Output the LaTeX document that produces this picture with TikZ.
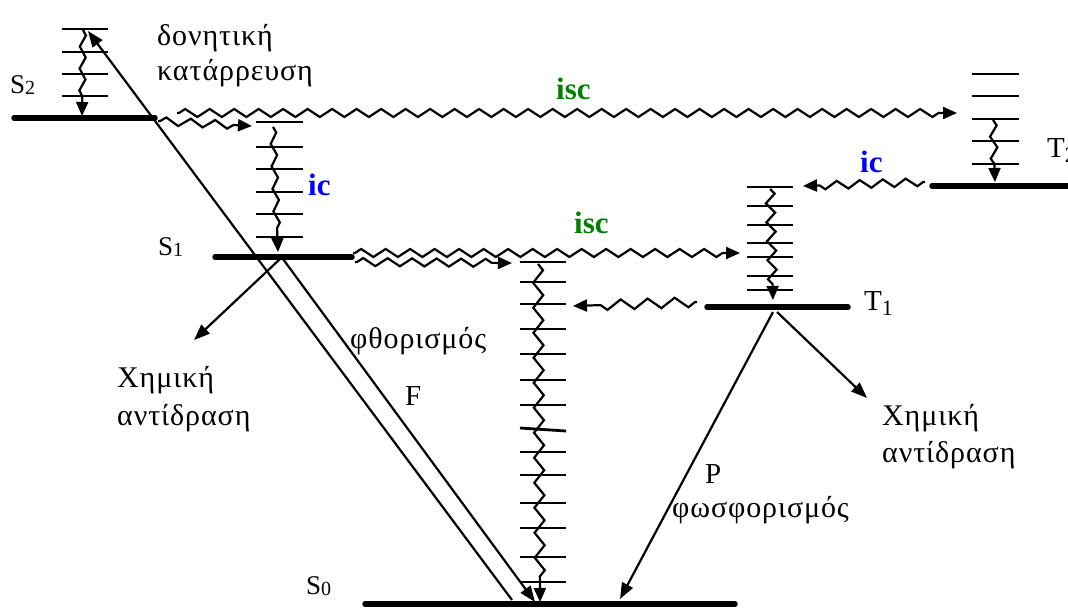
\documentclass[tikz,border=0pt]{standalone}
\usepackage{fontspec}
\setmainfont{Liberation Serif}
\newfontfamily\grf[LetterSpace=3]{Liberation Serif}
\usetikzlibrary{arrows.meta,decorations.pathmorphing}
\definecolor{iscgreen}{RGB}{0,128,0}
\definecolor{icblue}{RGB}{0,0,255}
\begin{document}
\begin{tikzpicture}[x=1pt,y=-1pt,
  lvl/.style={line width=5.5pt,line cap=round},
  vib/.style={line width=2.8pt},
  tip/.style={-{Triangle[length=14pt,width=12pt]}},
  bigtip/.style={-{Triangle[length=16pt,width=12pt]}},
  thinl/.style={line width=2.2pt},
  zzh/.style 2 args={line width=2.2pt, decorate, decoration={zigzag, segment length=#1, amplitude=#2, post length=16pt, pre length=2pt}},
  zzv/.style 2 args={line width=2.2pt, decorate, decoration={zigzag, segment length=#1, amplitude=#2, post length=15pt}},
  gtxt/.style={font=\grf\fontsize{30}{36}\selectfont, inner sep=0pt, anchor=base west},
  lbl/.style={font=\fontsize{27}{27}\selectfont, inner sep=0pt, anchor=base west},
  tlbl/.style={font=\fontsize{29}{29}\selectfont, inner sep=0pt, anchor=base west},
  bigl/.style={font=\fontsize{29}{29}\selectfont, inner sep=0pt, anchor=base west},
  isctxt/.style={font=\bfseries\fontsize{31}{31}\selectfont, text=iscgreen, inner sep=0pt, anchor=base west},
  ictxt/.style={font=\bfseries\fontsize{31}{31}\selectfont, text=icblue, inner sep=0pt, anchor=base west},
]
\useasboundingbox (0,0) rectangle (1068,608);

% ---------- electronic levels ----------
\coordinate (S2a) at (14,118);  \coordinate (S2b) at (155,118);
\coordinate (S1a) at (215,257); \coordinate (S1b) at (352,257);
\coordinate (S0a) at (365,604); \coordinate (S0b) at (735,604);
\coordinate (T1a) at (707,307); \coordinate (T1b) at (848,307);
\coordinate (T2a) at (932,186); \coordinate (T2b) at (1075,186);
\draw[lvl] (S2a) -- (S2b);
\draw[lvl] (S1a) -- (S1b);
\draw[lvl] (S0a) -- (S0b);
\draw[lvl] (T1a) -- (T1b);
\draw[lvl] (T2a) -- (T2b);

% ---------- vibrational ladders ----------
\foreach \y in {29,52,74,96} \draw[vib] (62,\y) -- (108,\y);
\foreach \y in {122,147,169,192,214,237} \draw[vib] (256,\y) -- (303,\y);
\foreach \y in {187,206,225,243,257,276,290} \draw[vib] (747,\y) -- (793,\y);
\foreach \y in {74,96,119,141,164} \draw[vib] (972,\y) -- (1019,\y);
\foreach \y in {262,282,304,329,354,380,405,452,475,503,528,557,582} \draw[vib] (520,\y) -- (566,\y);
\draw[vib] (520,428) -- (566,431);

% ---------- vibrational relaxation (vertical zigzags) ----------
\coordinate (zs2a) at (83,30);   \coordinate (zs2b) at (82,116);
\coordinate (zs1a) at (273,127); \coordinate (zs1b) at (278,252);
\coordinate (zt1a) at (770,189); \coordinate (zt1b) at (773,300);
\coordinate (zt2a) at (993,120); \coordinate (zt2b) at (995,182);
\coordinate (zs0a) at (538,264); \coordinate (zs0b) at (540,602);
\draw[zzv={22pt}{3pt},tip] (zs2a) -- (zs2b);
\draw[zzv={22.5pt}{3pt},tip] (zs1a) -- (zs1b);
\draw[zzv={19pt}{4.5pt},tip] (zt1a) -- (zt1b);
\draw[zzv={22pt}{3.5pt},tip] (zt2a) -- (zt2b);
\draw[zzv={25pt}{5pt},tip] (zs0a) -- (zs0b);

% ---------- horizontal zigzags (ic / isc) ----------
\coordinate (hAa) at (158,121); \coordinate (hAb) at (252,126);
\coordinate (hBa) at (177,113); \coordinate (hBb) at (957,113);
\coordinate (hCa) at (353,253); \coordinate (hCb) at (740,253);
\coordinate (hDa) at (355,262); \coordinate (hDb) at (512,263);
\coordinate (hEa) at (697,302); \coordinate (hEb) at (573,306);
\coordinate (hFa) at (925,182); \coordinate (hFb) at (803,186);
\draw[zzh={24.5pt}{4pt},tip] (hAa) -- (hAb);
\draw[zzh={24.5pt}{4pt},tip] (hBa) -- (hBb);
\draw[zzh={24.5pt}{4pt},tip] (hCa) -- (hCb);
\draw[zzh={24.5pt}{4pt},tip] (hDa) -- (hDb);
\draw[zzh={27pt}{5pt},tip] (hEa) -- (hEb);
\draw[zzh={23pt}{4pt},tip] (hFa) -- (hFb);

% ---------- radiative / chemical arrows ----------
\coordinate (absA) at (512,600); \coordinate (absB) at (88,31);
\coordinate (flA) at (283,259);  \coordinate (flB) at (535,602);
\coordinate (chLa) at (280,259); \coordinate (chLb) at (194,340);
\coordinate (chRa) at (777,312); \coordinate (chRb) at (867,398);
\coordinate (phA) at (773,312);  \coordinate (phB) at (620,599);
\draw[thinl,bigtip] (absA) -- (absB);
\draw[thinl,bigtip] (flA) -- (flB);
\draw[thinl,bigtip] (chLa) -- (chLb);
\draw[thinl,bigtip] (chRa) -- (chRb);
\draw[thinl,bigtip] (phA) -- (phB);

% ---------- labels ----------
\node[lbl] (lS2) at (10,93) {S\raisebox{-1pt}{\fontsize{20}{20}\selectfont 2}};
\node[lbl] (lS1) at (158,255) {S\raisebox{-1pt}{\fontsize{20}{20}\selectfont 1}};
\node[lbl] (lS0) at (306,594) {S\raisebox{-1pt}{\fontsize{20}{20}\selectfont 0}};
\node[tlbl] (lT1) at (864,310) {T\raisebox{-5pt}{\fontsize{22}{22}\selectfont 1}};
\node[tlbl] (lT2) at (1047,157) {T\raisebox{-5pt}{\fontsize{22}{22}\selectfont 2}};

\node[gtxt] (vrA) at (157,45) {δονητική};
\node[gtxt] (vrB) at (157,80) {κατάρρευση};
\node[gtxt] (chLA) at (117,387) {Χημική};
\node[gtxt] (chLB) at (117,425) {αντίδραση};
\node[gtxt] (chRA) at (882,425) {Χημική};
\node[gtxt] (chRB) at (882,462) {αντίδραση};
\node[gtxt] (flT) at (350,348) {φθορισμός};
\node[bigl] (flF) at (405,405) {F};
\node[bigl] (phP) at (705,483) {P};
\node[gtxt] (phT) at (672,517) {φωσφορισμός};

\node[isctxt] (isc1) at (556,99) {isc};
\node[isctxt] (isc2) at (574,233) {isc};
\node[ictxt] (ic1) at (308,195) {ic};
\node[ictxt] (ic2) at (860,172) {ic};
\end{tikzpicture}
\end{document}
